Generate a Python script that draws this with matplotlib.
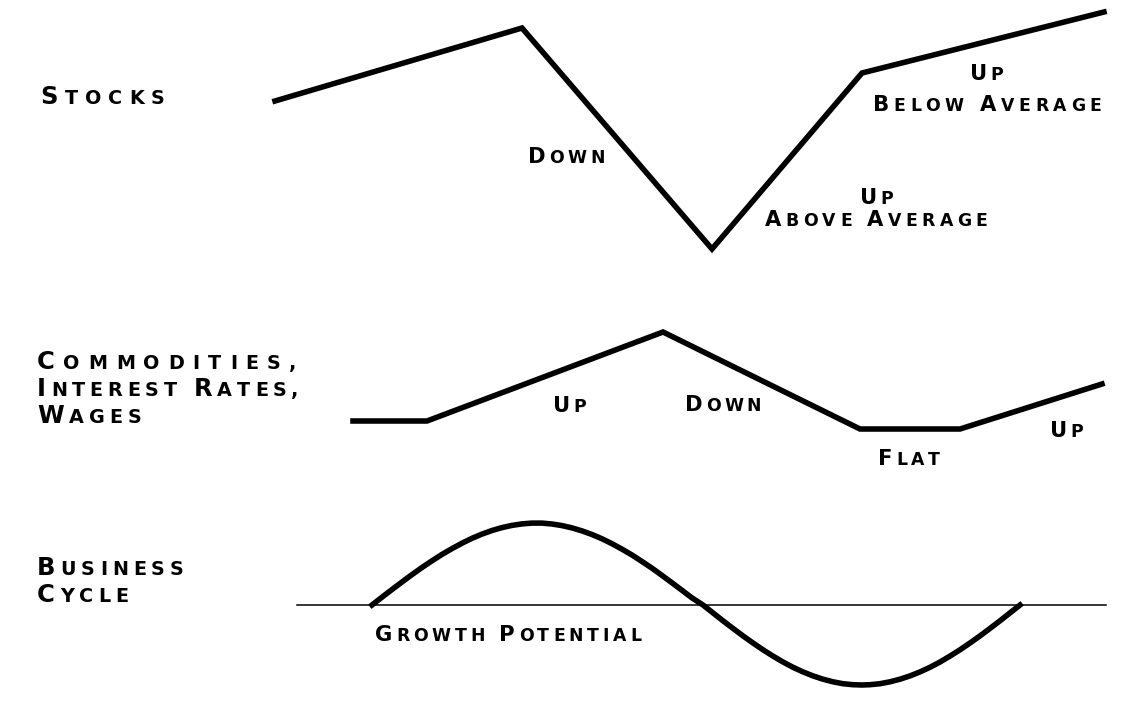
import numpy as np
import matplotlib.pyplot as plt

# pixel-style coordinates (x to the right, y downward)
stocks_x = [275, 522, 712, 862, 1104]
stocks_y = [101, 28, 249, 73, 12]

commod_x = [353, 427, 663, 860, 960, 1102]
commod_y = [421, 421, 332, 429, 429, 384]

cycle_x = [372, 382, 392, 402, 412, 422, 432, 442, 452, 462, 472, 482, 492,
           502, 512, 522, 532, 542, 552, 562, 572, 582, 592, 602, 612, 622,
           632, 642, 652, 662, 672, 682, 692, 703,
           713, 723, 733, 743, 753, 763, 773, 783, 793, 803, 813, 823, 833,
           843, 853, 862, 870, 880, 890, 900, 910, 920, 930, 940, 950, 960,
           970, 980, 990, 1000, 1010, 1020]
cycle_y = [605, 597.2, 589.5, 582.0, 574.6, 567.5, 560.8, 554.4, 548.6,
           543.2, 538.3, 534.1, 530.5, 527.6, 525.4, 523.9, 523.1, 523.1,
           524.0, 525.6, 527.9, 530.9, 534.5, 538.8, 543.7, 549.2, 555.0,
           561.5, 568.2, 575.4, 582.8, 590.3, 597.9, 605,
           612.9, 620.8, 628.4, 635.9, 643.0, 649.8, 656.1, 662.0, 667.3,
           671.9, 675.9, 679.2, 681.8, 683.7, 684.7, 685, 684.7, 683.7,
           681.8, 679.2, 675.9, 671.9, 667.3, 662.0, 656.1, 649.8, 643.0,
           635.9, 628.4, 620.8, 612.9, 605]
baseline_x = [297, 1106]
baseline_y = [605, 605]

# (text, left x, baseline y, big size, small size, letter spacing px)
labels = [
    ("Stocks", 40, 104, 17.5, 13.8, 7),
    ("Commodities,", 37, 369, 17.5, 13.8, 8.5),
    ("Interest Rates,", 37, 396, 17.5, 13.8, 4.8),
    ("Wages", 37, 423, 17.5, 13.8, 5),
    ("Business", 37, 575, 17.5, 13.8, 5),
    ("Cycle", 37, 602, 17.5, 13.8, 5),
    ("Down", 528, 163, 15.2, 12.4, 3.5),
    ("Up", 860, 204, 15.2, 12.4, 3.5),
    ("Above Average", 765, 226, 15.2, 12.4, 4.3),
    ("Up", 970, 80, 15.2, 12.4, 3.5),
    ("Below Average", 873, 111, 15.2, 12.4, 4.5),
    ("Up", 553, 412, 15.2, 12.4, 3.5),
    ("Down", 685, 411, 15.2, 12.4, 3.5),
    ("Flat", 878, 465, 15.2, 12.4, 3.5),
    ("Up", 1050, 437, 15.2, 12.4, 3.5),
    ("Growth Potential", 375, 641, 15.2, 12.4, 3.8),
]


def small_caps(ax, renderer, s, x, y, big, small, track):
    # first letter of each word big, rest as smaller capitals, spread out
    inv = ax.transData.inverted()
    for word in s.split(" "):
        for i, ch in enumerate(word):
            size = big if i == 0 else small
            t = ax.text(x, y, ch.upper(), fontsize=size, fontweight="heavy",
                        family="DejaVu Sans", ha="left", va="baseline")
            bb = t.get_window_extent(renderer)
            x = inv.transform((bb.x1, bb.y0))[0] + track
        x += small * 100 / 72 * 0.4 + track


def main():
    fig = plt.figure(figsize=(11.42, 7.08), dpi=100)
    ax = fig.add_axes([0, 0, 1, 1])
    ax.set_xlim(0, 1142)
    ax.set_ylim(708, 0)
    ax.axis("off")

    ax.plot(stocks_x, stocks_y, color="black", linewidth=4,
            solid_joinstyle="miter")
    ax.plot(commod_x, commod_y, color="black", linewidth=4,
            solid_joinstyle="miter")
    ax.plot(baseline_x, baseline_y, color="black", linewidth=1.1)
    ax.plot(cycle_x, cycle_y, color="black", linewidth=4,
            solid_joinstyle="round")

    renderer = fig.canvas.get_renderer()
    for s, x, y, big, small, track in labels:
        small_caps(ax, renderer, s, x, y, big, small, track)

    fig.savefig("out.png", dpi=100)


if __name__ == '__main__':
    main()
